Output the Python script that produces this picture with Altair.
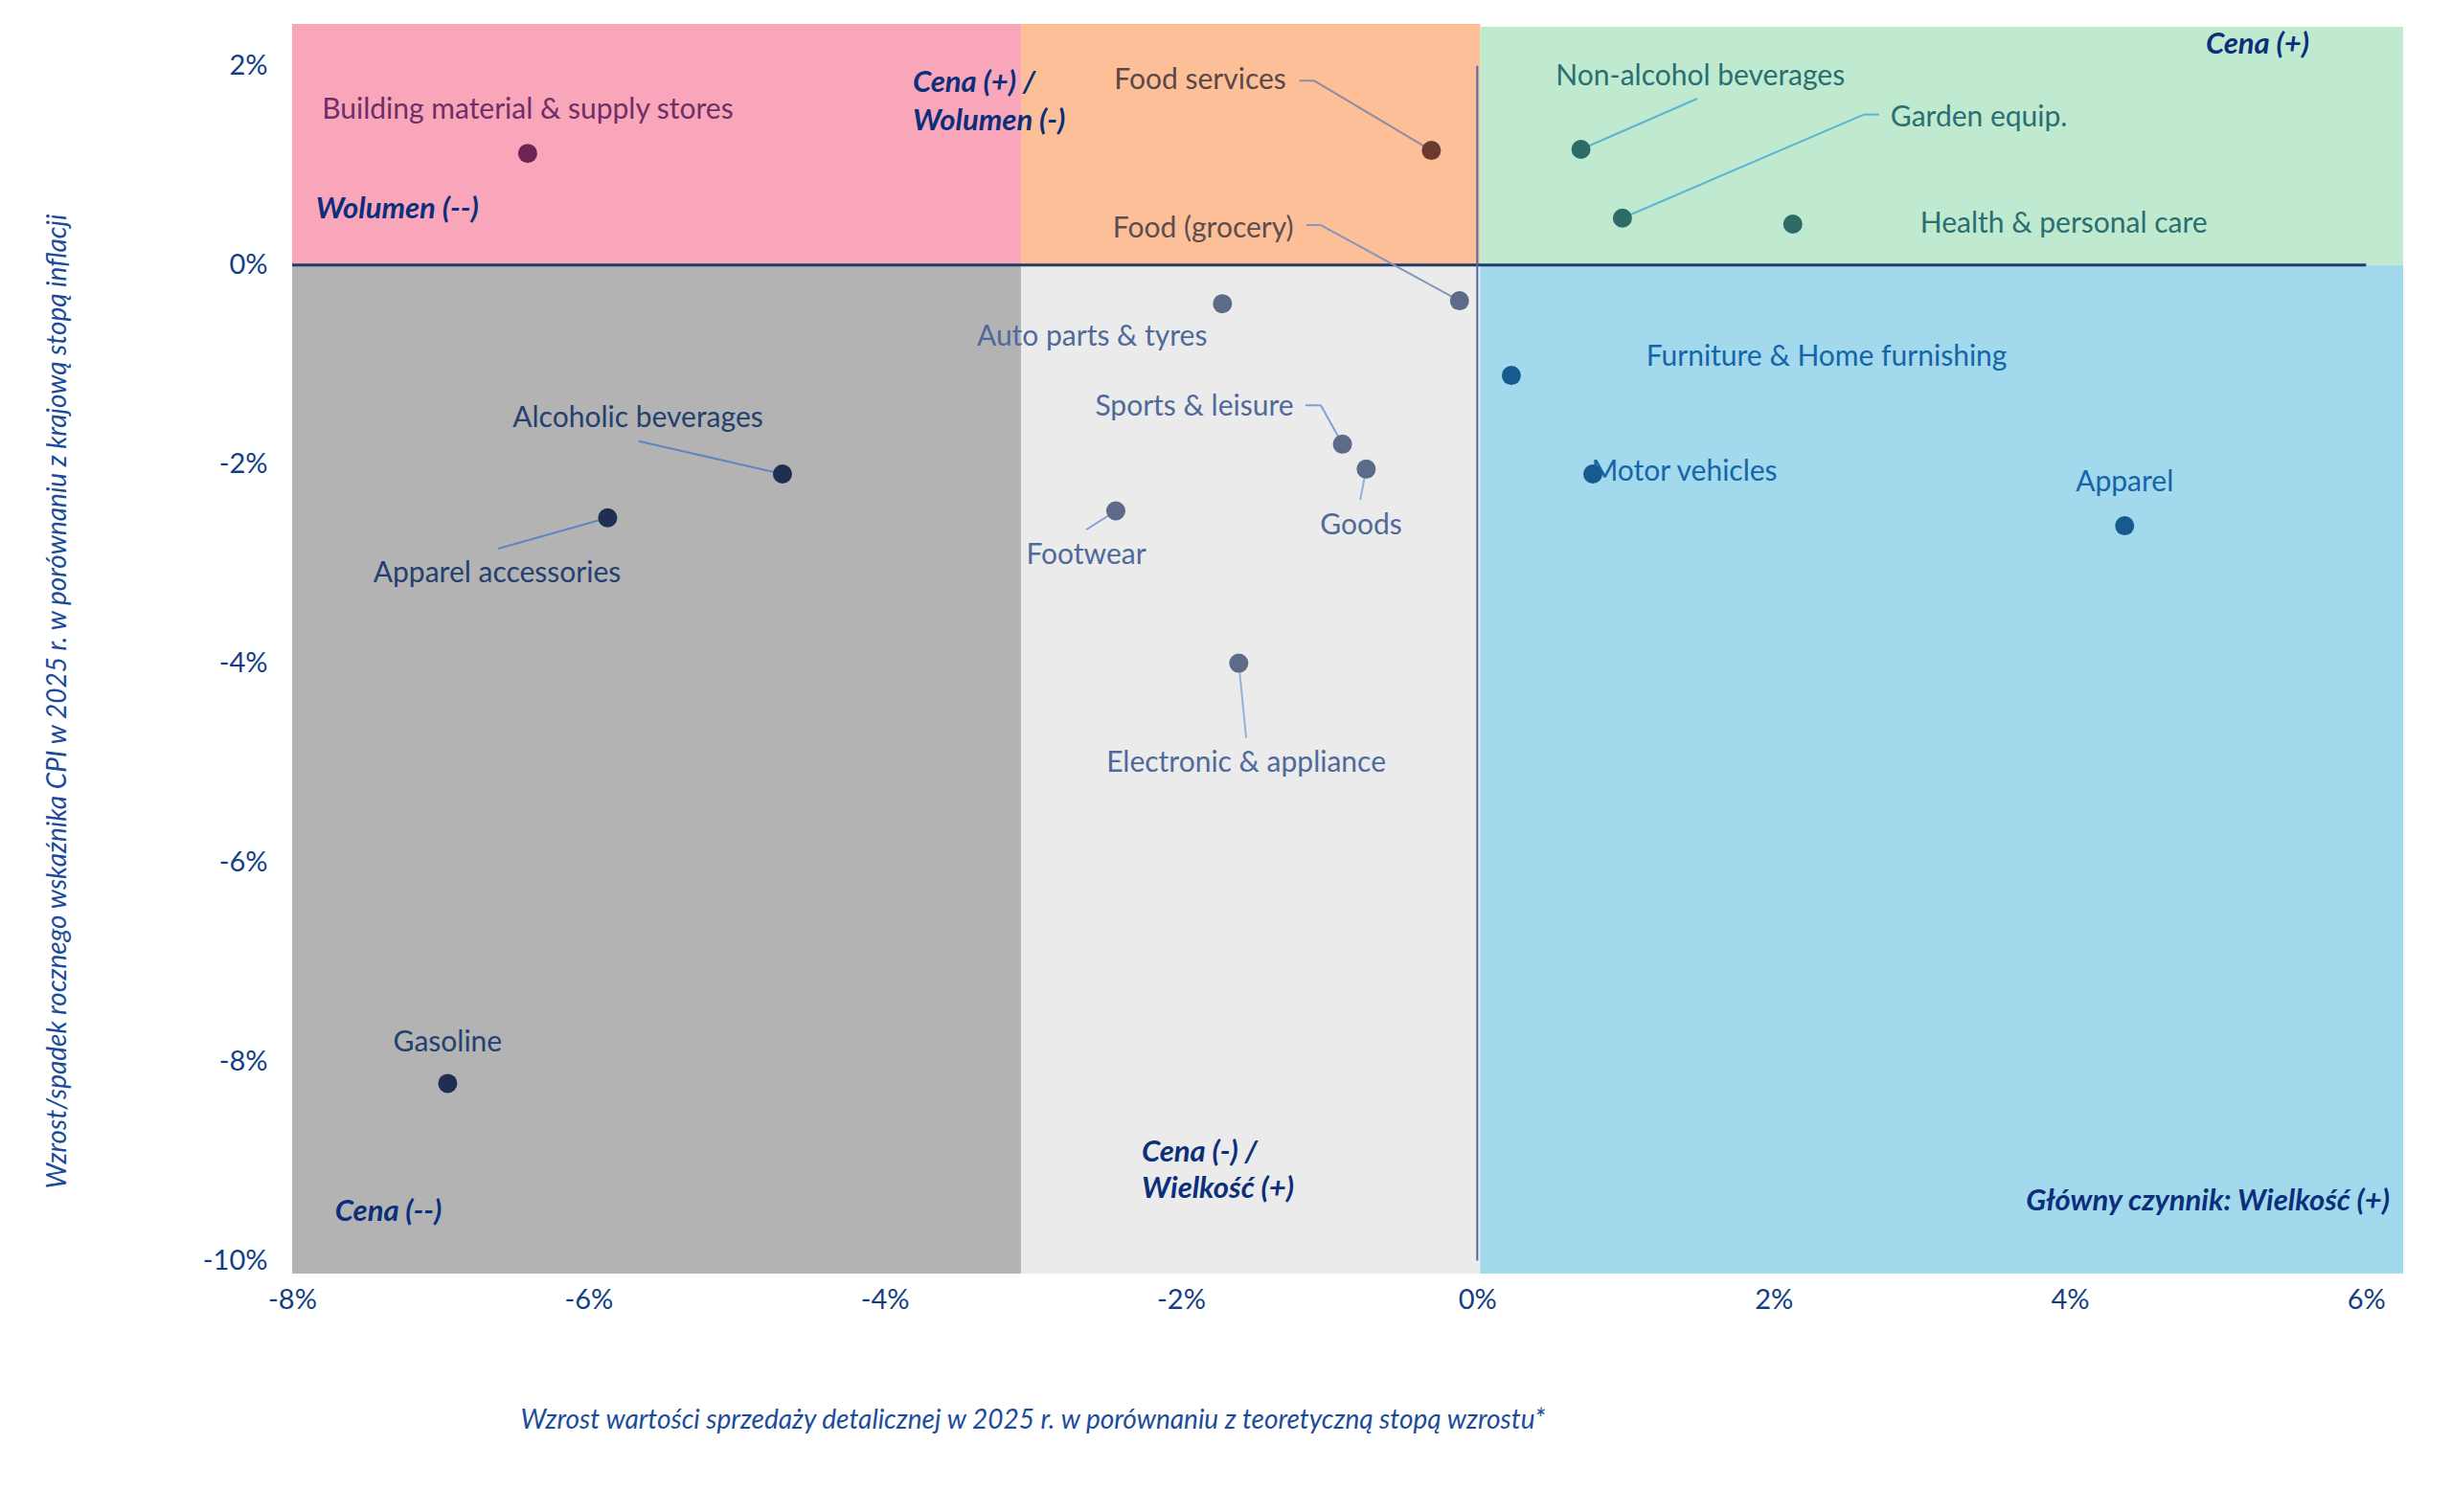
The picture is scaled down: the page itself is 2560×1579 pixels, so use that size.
import altair as alt
import pandas as pd

FONT = "Lato"

# ---------------- data ----------------
categories = [
    "Building material & supply stores", "Food services", "Non-alcohol beverages",
    "Garden equip.", "Health & personal care", "Food (grocery)", "Auto parts & tyres",
    "Furniture & Home furnishing", "Motor vehicles", "Sports & leisure", "Goods",
    "Apparel", "Alcoholic beverages", "Apparel accessories", "Footwear",
    "Electronic & appliance", "Gasoline",
]
sales_growth = [-6.41, -0.31, 0.70, 0.98, 2.13, -0.12, -1.72, 0.23, 0.78, -0.91, -0.75,
                4.37, -4.69, -5.87, -2.44, -1.61, -6.95]
cpi_change = [1.12, 1.15, 1.16, 0.47, 0.41, -0.36, -0.39, -1.11, -2.10, -1.80, -2.05,
              -2.62, -2.10, -2.54, -2.47, -4.00, -8.22]
point_colors = ["#6E2456", "#6B3A2F", "#2D6B66", "#2D6B66", "#2D6B66", "#5B6B88", "#5B6B88",
                "#165A90", "#165A90", "#5B6B88", "#5B6B88", "#165A90", "#1F2F52", "#1F2F52",
                "#5B6B88", "#5B6B88", "#1F2F52"]

label_x = [-6.41, -1.29, 0.53, 2.79, 2.99, -1.24, -2.60, 1.14, 0.77, -1.24, -0.785,
           4.37, -5.666, -6.616, -2.64, -1.56, -6.95]
label_y = [1.55, 1.85, 1.89, 1.48, 0.41, 0.36, -0.72, -0.93, -2.08, -1.43, -2.62,
           -2.19, -1.54, -3.10, -2.92, -5.00, -7.81]
label_align = ["center", "right", "left", "left", "left", "right", "center", "left", "left",
               "right", "center", "center", "center", "center", "center", "center", "center"]
label_colors = ["#6E2F66", "#5A4848", "#2A6E72", "#2A6E72", "#2A6E72", "#5A4E50", "#4F6A9A",
                "#1565A8", "#1565A8", "#4F6A9A", "#4F6A9A", "#1565A8", "#24406E", "#24406E",
                "#4F6A9A", "#4F6A9A", "#24406E"]

# leader segments: x, y, x2, y2, colour
leader_x = [-1.20, -1.10, 1.485, 2.713, 2.61, -1.153, -1.056, -1.16, -1.056, -0.75, -5.66, -6.61, -2.64, -1.61]
leader_y = [1.85, 1.85, 1.67, 1.51, 1.51, 0.40, 0.40, -1.41, -1.41, -2.05, -1.77, -2.85, -2.66, -4.00]
leader_x2 = [-1.10, -0.31, 0.70, 2.61, 0.98, -1.056, -0.12, -1.056, -0.91, -0.79, -4.69, -5.87, -2.44, -1.56]
leader_y2 = [1.85, 1.15, 1.16, 1.51, 0.47, 0.40, -0.36, -1.41, -1.80, -2.36, -2.10, -2.54, -2.47, -4.75]
leader_colors = ["#8C8CA4", "#8C8CA4", "#5BB5D2", "#5BB5D2", "#5BB5D2", "#8496BC", "#8496BC",
                 "#7FA0D8", "#7FA0D8", "#8FB0DD", "#5F85C2", "#5F85C2", "#7FA0D8", "#8FB3DD"]

# quadrant backgrounds
quad_x = [-8.0, -3.08, 0.02, -8.0, -3.08, 0.02]
quad_x2 = [-3.08, 0.02, 6.25, -3.08, 0.02, 6.25]
quad_y = [0.0, 0.0, 0.0, -10.13, -10.13, -10.13]
quad_y2 = [2.42, 2.42, 2.39, 0.0, 0.0, 0.0]
quad_colors = ["#F9A6BA", "#FDBF98", "#C0EACF", "#B3B3B3", "#EBEBEB", "#A2D9ED"]

# quadrant annotations
note_text = ["Cena (+)", "Cena (+) /", "Wolumen (-)", "Wolumen (--)", "Cena (--)",
             "Cena (-) /", "Wielkość (+)", "Główny czynnik: Wielkość (+)"]
note_x = [5.616, -3.81, -3.81, -7.84, -7.71, -2.265, -2.265, 6.16]
note_y = [2.21, 1.82, 1.44, 0.555, -9.51, -8.92, -9.28, -9.41]
note_align = ["right", "left", "left", "left", "left", "left", "left", "right"]

x_ticks = [-8, -6, -4, -2, 0, 2, 4, 6]
y_ticks = [-10, -8, -6, -4, -2, 0, 2]
x_title = "Wzrost wartości sprzedaży detalicznej w 2025 r. w porównaniu z teoretyczną stopą wzrostu*"
y_title = "Wzrost/spadek rocznego wskaźnika CPI w 2025 r. w porównaniu z krajową stopą inflacji"

# ---------------- tables ----------------
pts = pd.DataFrame({"name": categories, "x": sales_growth, "y": cpi_change, "c": point_colors})
lbl = pd.DataFrame({"name": categories, "x": label_x, "y": label_y, "c": label_colors, "a": label_align})
lead = pd.DataFrame({"x": leader_x, "y": leader_y, "x2": leader_x2, "y2": leader_y2, "c": leader_colors})
quads = pd.DataFrame({"x": quad_x, "x2": quad_x2, "y": quad_y, "y2": quad_y2, "c": quad_colors})
notes = pd.DataFrame({"t": note_text, "x": note_x, "y": note_y, "a": note_align})

XD = [-8.0, 6.25]
YD = [-10.13, 2.42]

xs = alt.Scale(domain=XD, nice=False, zero=False)
ys = alt.Scale(domain=YD, nice=False, zero=False)

x_axis = alt.Axis(values=x_ticks, labelExpr="datum.value + '%'", grid=False, domain=False,
                  ticks=False, labelPadding=13, labelFont=FONT, labelFontSize=29,
                  labelColor="#123E86", title=x_title, titleFont=FONT, titleFontSize=28,
                  titleFontStyle="italic", titleFontWeight="normal", titleColor="#1B4C9C",
                  titleX=773, titleY=153, titleAlign="center", titleBaseline="middle",
                  labelFlush=False)
y_axis = alt.Axis(values=y_ticks, labelExpr="datum.value + '%'", grid=False, domain=False,
                  ticks=False, labelPadding=26, labelFont=FONT, labelFontSize=29,
                  labelColor="#123E86", title=y_title, titleFont=FONT, titleFontSize=28,
                  titleFontStyle="italic", titleFontWeight="normal", titleColor="#1B4C9C",
                  titleX=-245, titleY=707, titleAlign="center", titleBaseline="middle",
                  labelFlush=False)

rects = alt.Chart(quads).mark_rect().encode(
    x=alt.X("x:Q", scale=xs, axis=x_axis),
    x2="x2:Q",
    y=alt.Y("y:Q", scale=ys, axis=y_axis),
    y2="y2:Q",
    color=alt.Color("c:N", scale=None),
)

hline = alt.Chart(pd.DataFrame({"x": [-8.0], "x2": [6.0], "y": [0.0]})).mark_rule(
    color="#1F3C66", strokeWidth=3
).encode(x=alt.X("x:Q", scale=xs), x2="x2:Q", y=alt.Y("y:Q", scale=ys))

vline = alt.Chart(pd.DataFrame({"x": [0.0], "y": [-10.0], "y2": [2.0]})).mark_rule(
    color="#4A6AA8", strokeWidth=2
).encode(x=alt.X("x:Q", scale=xs), y=alt.Y("y:Q", scale=ys), y2="y2:Q")

leaders = alt.Chart(lead).mark_rule(strokeWidth=2).encode(
    x=alt.X("x:Q", scale=xs), y=alt.Y("y:Q", scale=ys), x2="x2:Q", y2="y2:Q",
    color=alt.Color("c:N", scale=None),
)

def label_layer(align):
    return alt.Chart(lbl[lbl["a"] == align]).mark_text(
        font=FONT, fontSize=30, align=align, baseline="middle"
    ).encode(
        x=alt.X("x:Q", scale=xs), y=alt.Y("y:Q", scale=ys), text="name:N",
        color=alt.Color("c:N", scale=None),
    )

points = alt.Chart(pts).mark_point(filled=True, size=400, opacity=1, shape="circle").encode(
    x=alt.X("x:Q", scale=xs), y=alt.Y("y:Q", scale=ys),
    color=alt.Color("c:N", scale=None),
)

def note_layer(align):
    return alt.Chart(notes[notes["a"] == align]).mark_text(
        font=FONT, fontSize=31, fontStyle="italic", fontWeight="bold", align=align,
        baseline="middle", color="#0B2F7A"
    ).encode(x=alt.X("x:Q", scale=xs), y=alt.Y("y:Q", scale=ys), text="t:N")

chart = alt.layer(
    rects, hline, vline, leaders,
    label_layer("center"), label_layer("left"), label_layer("right"),
    points, note_layer("left"), note_layer("right"),
).properties(
    width=2204, height=1305,
    padding={"left": 305, "top": 25, "right": 51, "bottom": 249},
    autosize=alt.AutoSizeParams(type="none"),
    background="white",
).configure_view(stroke=None)

chart.save("out.html", embed_options={"renderer": "svg", "actions": False})
